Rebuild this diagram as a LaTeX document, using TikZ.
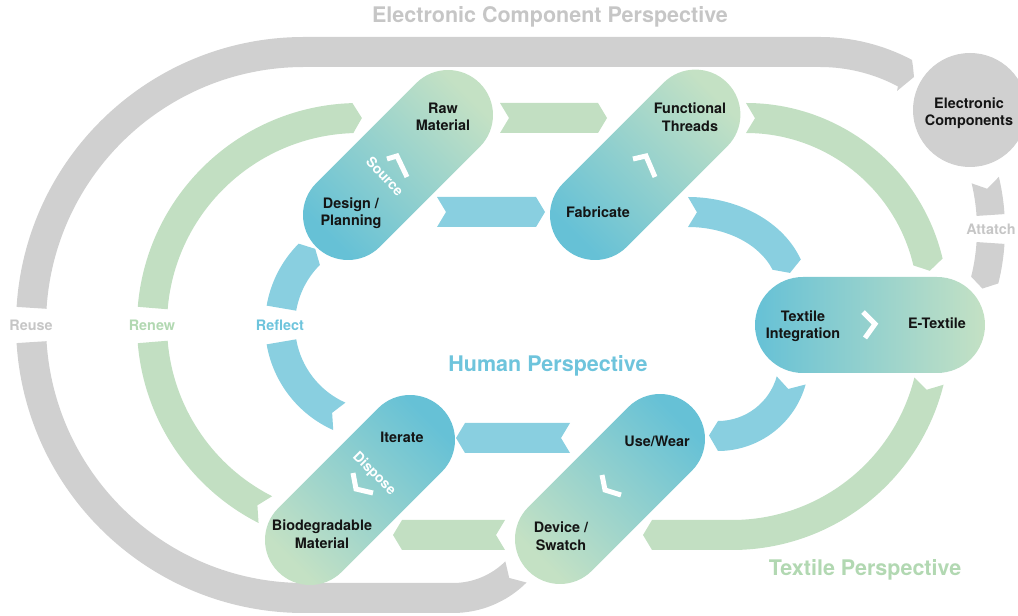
\documentclass[tikz,border=0pt]{standalone}
\usepackage{fontspec}
\setmainfont{TeX Gyre Heros}
\usetikzlibrary{calc}
\definecolor{pblue}{RGB}{102,193,214}
\definecolor{pgreen}{RGB}{196,225,196}
\definecolor{ablue}{RGB}{137,207,224}
\definecolor{agreen}{RGB}{194,223,194}
\definecolor{agray}{RGB}{208,208,208}
\definecolor{tgray}{RGB}{198,198,198}
\definecolor{tblue}{RGB}{110,196,220}
\definecolor{tgreen}{RGB}{178,216,178}
% curved chevron arrow: color, center, mid radius, half width, tail angle, head angle, notch angle, tip angle
\newcommand\carrow[8]{%
  \fill[#1] ([shift={#2}]{#5}:{#3+#4}) arc[start angle=#5, end angle=#6, radius={#3+#4}]
    -- ([shift={#2}]{#8}:{#3}) -- ([shift={#2}]{#6}:{#3-#4})
    arc[start angle=#6, end angle=#5, radius={#3-#4}]
    -- ([shift={#2}]{#7}:{#3}) -- cycle;}
% pill: A point, axis angle, length, radius, colour at A, colour at B, shading angle, angle-90
\newcommand\pill[8]{%
  \shade[bottom color=#5, top color=#6, shading angle=#7]
    ([shift={#1}]{#8}:{#4}) -- ++({#2}:{#3})
    arc[start angle=#8, end angle=#8+180, radius=#4]
    -- ++({#2+180}:{#3})
    arc[start angle=#8+180, end angle=#8+360, radius=#4] -- cycle;}
\tikzset{
  nodetxt/.style={font=\bfseries\fontsize{14.4}{17.5}\selectfont, align=center, text=black!92, inner sep=0pt},
  looptxt/.style={font=\bfseries\fontsize{14.4}{17}\selectfont, inner sep=0pt},
  bigtxt/.style={font=\bfseries\fontsize{21.5}{25}\selectfont, inner sep=0pt},
  rottxt/.style={font=\bfseries\fontsize{14}{16}\selectfont, text=white, inner sep=0pt},
  chev/.style={draw=white, line width=5pt, line cap=butt, line join=miter}
}
\begin{document}
\begin{tikzpicture}[x=1pt,y=1pt]
\useasboundingbox (0,0) rectangle (1018,616);

% ---------- Reuse (gray outer loop) ----------
\fill[agray] ([shift={(453,107)}]{315}:{104}) arc[start angle=315,end angle=270,radius=104]
  -- (304,3) arc[start angle=270,end angle=183.6,radius=288]
  -- ([shift={(304,291)}]{183.6}:{258}) arc[start angle=183.6,end angle=270,radius=258]
  -- (453,33) arc[start angle=270,end angle=315,radius=74]
  -- ([shift={(453,107)}]{309.2}:{89}) -- cycle;
\fill[agray] ([shift={(304,291)}]{176.4}:{288}) arc[start angle=176.4,end angle=90,radius=288]
  -- (820,579) arc[start angle=90,end angle=62,radius=196]
  -- (913,549) -- (914,539) -- (897,525)
  -- ([shift={(820,383)}]{62}:{166})
  arc[start angle=62,end angle=90,radius=166]
  -- (304,549) arc[start angle=90,end angle=176.4,radius=258] -- cycle;

% ---------- Attach ----------
\carrow{agray}{(780,387)}{211}{14}{13.4}{3.8}{11}{3.8}
\carrow{agray}{(780,387)}{211}{14}{-3.8}{-14}{-3.8}{-16.4}

% ---------- Renew (green, left) ----------
\carrow{agreen}{(359,291)}{207}{15}{243.1}{184.7}{240.6}{184.7}
\carrow{agreen}{(359,291)}{207}{15}{175.3}{91.7}{175.3}{89.2}

% ---------- Reflect (blue, left) ----------
\carrow{ablue}{(380,291)}{100}{15}{246}{189.7}{241.4}{189.7}
\carrow{ablue}{(380,291)}{100}{15}{170.3}{135}{170.3}{130.4}

% ---------- right side arcs ----------
\carrow{agreen}{(746,311)}{187}{15}{90}{13.3}{87.24}{10.54}
\carrow{ablue}{(718,256)}{76}{15}{344.4}{270}{337.6}{263.2}
\fill[ablue] ([shift={(688,324)}]{90}:120 and 95) arc[start angle=90,end angle=20,x radius=120,y radius=95]
  -- ([shift={(688,324)}]{13.8}:105 and 80) -- ([shift={(688,324)}]{20}:90 and 65)
  arc[start angle=20,end angle=90,x radius=90,y radius=65]
  -- ([shift={(688,324)}]{85.1}:105 and 80) -- cycle;
\fill[agreen] ([shift={(732,284)}]{346}:{218}) arc[start angle=346,end angle=270,radius=218]
  -- (652,66) -- (643,81) -- (652,96) -- (732,96)
  arc[start angle=270,end angle=346,radius=188]
  -- ([shift={(732,284)}]{343.46}:{203}) -- cycle;

% ---------- straight arrows ----------
\fill[agreen] (500,513) -- (598,513) -- (607,498) -- (598,483) -- (500,483) -- (509,498) -- cycle;
\fill[ablue] (437,419) -- (536,419) -- (545,404) -- (536,389) -- (437,389) -- (446,404) -- cycle;
\fill[ablue] (570,193) -- (465,193) -- (456,178) -- (465,163) -- (570,163) -- (561,178) -- cycle;
\fill[agreen] (505,96) -- (402,96) -- (393,81) -- (402,66) -- (505,66) -- (496,81) -- cycle;

% ---------- pills ----------
\pill{(348,401)}{45}{141.4}{45}{pblue}{pgreen}{-45}{-45}
\pill{(595,401)}{45}{142}{45}{pblue}{pgreen}{-45}{-45}
\pill{(803,291)}{0}{134}{48}{pblue}{pgreen}{-90}{-90}
\pill{(310,76)}{45}{141.4}{45}{pgreen}{pblue}{-45}{-45}
\pill{(560,77)}{45}{141.4}{45}{pgreen}{pblue}{-45}{-45}

% ---------- electronic components ----------
\node[circle, fill=agray, minimum size=114pt, inner sep=0pt] (ec) at (970,506) {};
\node[nodetxt] (ectxt) at (969,503) {Electronic\\Components};

% ---------- chevrons ----------
\draw[chev] (387,457) -- (397,460) -- (407,439);
\draw[chev] (633,457) -- (646,460) -- (655,439);
\draw[chev] (353,143) -- (356,127) -- (373,123);
\draw[chev] (602,141) -- (605,126) -- (621,121);
\draw[chev] (863,304) -- (875,292) -- (865,278);

% ---------- pill texts ----------
\node[nodetxt] (raw) at (443,499) {Raw\\Material};
\node[nodetxt] (design) at (351,403) {Design /\\Planning};
\node[nodetxt] (func) at (690,499) {Functional\\Threads};
\node[nodetxt] (fab) at (598,404) {Fabricate};
\node[nodetxt] (ti) at (803,290) {Textile\\Integration};
\node[nodetxt] (et) at (937,293) {E-Textile};
\node[nodetxt] (iter) at (402,178.5) {Iterate};
\node[nodetxt] (bio) at (322,82) {Biodegradable\\Material};
\node[nodetxt] (use) at (657,175) {Use/Wear};
\node[nodetxt] (dev) at (561,80) {Device /\\Swatch};

\node[rottxt, rotate=-47] (source) at (385,439.5) {Source};
\node[rottxt, rotate=-45] (dispose) at (374,142) {Dispose};

% ---------- loop labels ----------
\node[looptxt, text=tgray] (reuse) at (31,291) {Reuse};
\node[looptxt, text=tgreen] (renew) at (152,291) {Renew};
\node[looptxt, text=tblue] (reflect) at (280,291) {Reflect};
\node[looptxt, text=tgray] (attach) at (991,387) {Attatch};

% ---------- perspective titles ----------
\node[bigtxt, text=tgray] (t1) at (550,599) {Electronic Component Perspective};
\node[bigtxt, text=tblue] (t2) at (548,250) {Human Perspective};
\node[bigtxt, text=tgreen] (t3) at (865,46) {Textile Perspective};
\end{tikzpicture}
\end{document}
